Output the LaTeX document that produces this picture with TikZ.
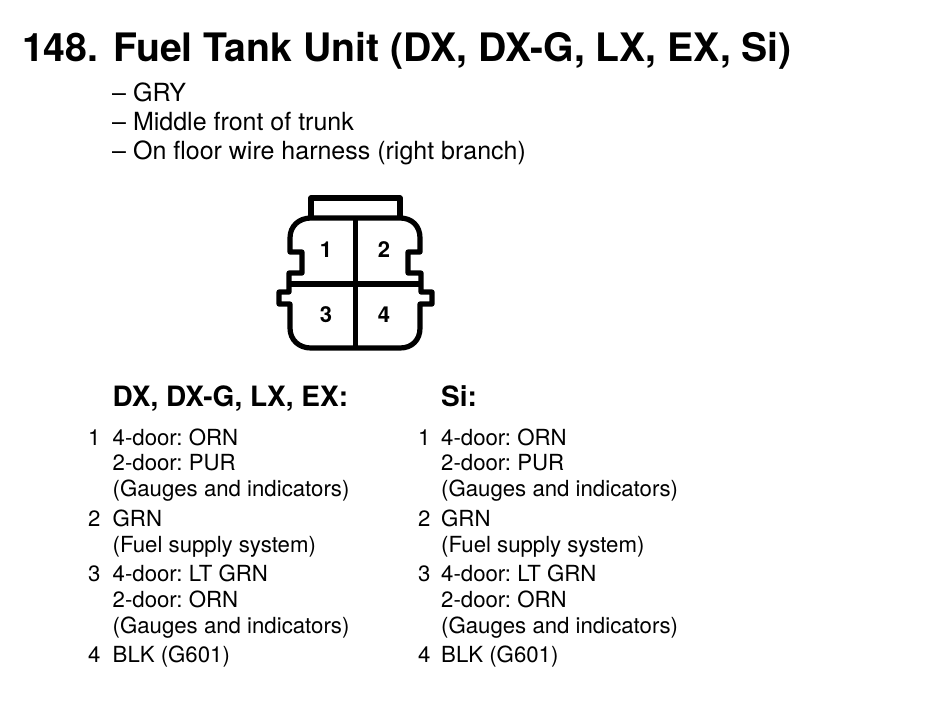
\documentclass[tikz,border=0pt]{standalone}
\usepackage{fontspec}
\setmainfont{TeX Gyre Heros}
\tikzset{
  x=1pt,y=-1pt,
  title/.style={anchor=base west,inner sep=0pt,font=\fontsize{39.2}{39}\selectfont\bfseries},
  head/.style={anchor=base west,inner sep=0pt,font=\fontsize{28}{28}\selectfont\bfseries\frenchspacing},
  subt/.style={anchor=base west,inner sep=0pt,font=\fontsize{25}{25}\selectfont\frenchspacing},
  body/.style={anchor=base west,inner sep=0pt,font=\fontsize{22.2}{22}\selectfont\frenchspacing},
  pin/.style={anchor=center,inner sep=0pt,font=\fontsize{22}{22}\selectfont\bfseries},
  conn/.style={draw=black,line width=5.2pt,line join=round},
}
\begin{document}
\begin{tikzpicture}
\useasboundingbox (0,0) rectangle (928,726);
\fill[white] (0,0) rectangle (928,726);
\node[title] (t1) at (22,61) {148.};
\node[title] (t2) at (113,61) {Fuel Tank Unit (DX, DX-G, LX, EX, Si)};
\node[subt] (l1) at (112,101) {– GRY};
\node[subt] (l2) at (112,130) {– Middle front of trunk};
\node[subt] (l3) at (112,159) {– On floor wire harness (right branch)};
% connector
\draw[conn] (311,218) -- (311,198) -- (400,198) -- (400,218);
\draw[conn] (311,218) -- (400,218)
  .. controls (412,218) and (420,226) .. (420,238) -- (420,252) -- (408,252) -- (408,273) -- (421,273) -- (421,292) -- (432,292) -- (432,304) -- (420,304) -- (420,328)
  .. controls (420,340) and (412,348) .. (400,348) -- (311,348)
  .. controls (299,348) and (290,340) .. (290,328) -- (290,304) -- (279,304) -- (279,292) -- (289,292) -- (289,273) -- (302,273) -- (302,252) -- (290,252) -- (290,238)
  .. controls (290,226) and (299,218) .. (311,218) -- cycle;
\draw[conn] (355.5,218) -- (355.5,348);
\draw[conn] (289,284) -- (421,284);
\node[pin] (p1) at (326,250) {1};
\node[pin] (p2) at (384,250) {2};
\node[pin] (p3) at (326,315) {3};
\node[pin] (p4) at (384,315) {4};
% columns
\node[head] (h1) at (112.5,406) {DX, DX-G, LX, EX:};
\node[head] (h2) at (441,406) {Si:};
\foreach \nm/\nx/\tx in {a/88/112.5,b/418/441}{
  \node[body] (\nm n1) at (\nx,445) {1};
  \node[body] (\nm a) at (\tx,445) {4-door: ORN};
  \node[body] (\nm b) at (\tx,470) {2-door: PUR};
  \node[body] (\nm c) at (\tx,496) {(Gauges and indicators)};
  \node[body] (\nm n2) at (\nx,526) {2};
  \node[body] (\nm d) at (\tx,526) {GRN};
  \node[body] (\nm e) at (\tx,552) {(Fuel supply system)};
  \node[body] (\nm n3) at (\nx,581) {3};
  \node[body] (\nm f) at (\tx,581) {4-door: LT GRN};
  \node[body] (\nm g) at (\tx,607) {2-door: ORN};
  \node[body] (\nm h) at (\tx,633) {(Gauges and indicators)};
  \node[body] (\nm n4) at (\nx,662) {4};
  \node[body] (\nm i) at (\tx,662) {BLK (G601)};
}
\end{tikzpicture}
\end{document}
